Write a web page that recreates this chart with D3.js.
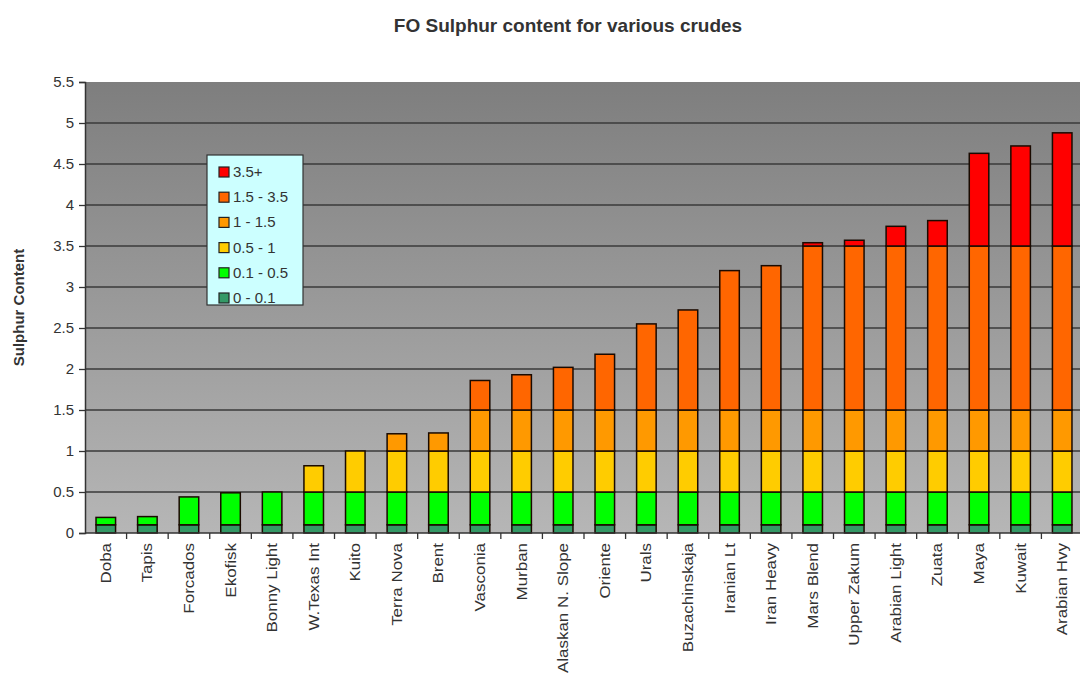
<!DOCTYPE html>
<html>
<head>
<meta charset="utf-8">
<script src="https://cdn.jsdelivr.net/npm/d3@7"></script>
<style>
  body { margin: 0; background: #fff; }
  text { font-family: "Liberation Sans", Arial, sans-serif; fill: #333; }
</style>
</head>
<body>
<svg id="chart" width="1080" height="677"></svg>
<script>
// Crudes, sorted by fuel-oil sulphur content
const crudes = ["Doba", "Tapis", "Forcados", "Ekofisk", "Bonny Light", "W.Texas Int", "Kuito",
  "Terra Nova", "Brent", "Vasconia", "Murban", "Alaskan N. Slope", "Oriente", "Urals",
  "Buzachinskaja", "Iranian Lt", "Iran Heavy", "Mars Blend", "Upper Zakum", "Arabian Light",
  "Zuata", "Maya", "Kuwait", "Arabian Hvy"];

// Portion of each crude's sulphur content falling in each band (stacked series)
const band0to01   = [0.1, 0.1, 0.1, 0.1, 0.1, 0.1, 0.1, 0.1, 0.1, 0.1, 0.1, 0.1,
                     0.1, 0.1, 0.1, 0.1, 0.1, 0.1, 0.1, 0.1, 0.1, 0.1, 0.1, 0.1];
const band01to05  = [0.09, 0.1, 0.34, 0.39, 0.4, 0.4, 0.4, 0.4, 0.4, 0.4, 0.4, 0.4,
                     0.4, 0.4, 0.4, 0.4, 0.4, 0.4, 0.4, 0.4, 0.4, 0.4, 0.4, 0.4];
const band05to1   = [0, 0, 0, 0, 0, 0.32, 0.5, 0.5, 0.5, 0.5, 0.5, 0.5,
                     0.5, 0.5, 0.5, 0.5, 0.5, 0.5, 0.5, 0.5, 0.5, 0.5, 0.5, 0.5];
const band1to15   = [0, 0, 0, 0, 0, 0, 0, 0.21, 0.22, 0.5, 0.5, 0.5,
                     0.5, 0.5, 0.5, 0.5, 0.5, 0.5, 0.5, 0.5, 0.5, 0.5, 0.5, 0.5];
const band15to35  = [0, 0, 0, 0, 0, 0, 0, 0, 0, 0.36, 0.43, 0.52,
                     0.68, 1.05, 1.22, 1.7, 1.76, 2.0, 2.0, 2.0, 2.0, 2.0, 2.0, 2.0];
const band35plus  = [0, 0, 0, 0, 0, 0, 0, 0, 0, 0, 0, 0,
                     0, 0, 0, 0, 0, 0.04, 0.07, 0.24, 0.31, 1.13, 1.22, 1.38];

const bandNames  = ["0 - 0.1", "0.1 - 0.5", "0.5 - 1", "1 - 1.5", "1.5 - 3.5", "3.5+"];
const bandColors = ["#339966", "#00ff00", "#ffcc00", "#ff9900", "#ff6600", "#ff0000"];
const yTicks = [0, 0.5, 1, 1.5, 2, 2.5, 3, 3.5, 4, 4.5, 5, 5.5];
const yTickLabels = ["0", "0.5", "1", "1.5", "2", "2.5", "3", "3.5", "4", "4.5", "5", "5.5"];

const series = [band0to01, band01to05, band05to1, band1to15, band15to35, band35plus];
const rows = crudes.map((c, i) => {
  const r = { crude: c };
  bandNames.forEach((b, k) => { r[b] = series[k][i]; });
  return r;
});

const svg = d3.select("#chart");
const plot = { left: 85, right: 1083, top: 82, bottom: 533 };

const x = d3.scaleBand().domain(crudes).range([plot.left, plot.right])
  .paddingInner(0.53).paddingOuter(0.265);
const y = d3.scaleLinear().domain([0, 5.5]).range([plot.bottom, plot.top]);

// Plot area with a vertical grey gradient
const defs = svg.append("defs");
const grad = defs.append("linearGradient").attr("id", "plotBg")
  .attr("x1", 0).attr("y1", 0).attr("x2", 0).attr("y2", 1);
grad.append("stop").attr("offset", "0%").attr("stop-color", "#7e7e7e");
grad.append("stop").attr("offset", "100%").attr("stop-color", "#b6b6b6");
svg.append("rect")
  .attr("x", plot.left).attr("y", plot.top)
  .attr("width", plot.right - plot.left).attr("height", plot.bottom - plot.top)
  .attr("fill", "url(#plotBg)");

// Horizontal gridlines
svg.append("g").selectAll("line")
  .data(yTicks.filter(t => t > 0 && t < 5.5))
  .join("line")
  .attr("x1", plot.left).attr("x2", plot.right)
  .attr("y1", d => y(d)).attr("y2", d => y(d))
  .attr("stroke", "#3a3a3a").attr("stroke-width", 1.6);

// Stacked bars
const stack = d3.stack().keys(bandNames)(rows);
svg.append("g").selectAll("g")
  .data(stack)
  .join("g")
  .attr("fill", (d, i) => bandColors[i])
  .selectAll("rect")
  .data(d => d.filter(p => p[1] - p[0] > 0))
  .join("rect")
  .attr("x", d => x(d.data.crude))
  .attr("width", x.bandwidth())
  .attr("y", d => y(d[1]))
  .attr("height", d => y(d[0]) - y(d[1]))
  .attr("stroke", "#1a0a00").attr("stroke-width", 1.5);

// Y axis
const yAxis = d3.axisLeft(y).tickValues(yTicks)
  .tickFormat((d, i) => yTickLabels[i]).tickSize(6).tickPadding(5);
const gy = svg.append("g").attr("transform", `translate(${plot.left},0)`).call(yAxis);
gy.select(".domain").attr("stroke", "#333").attr("stroke-width", 1.5);
gy.selectAll(".tick line").attr("stroke", "#333").attr("stroke-width", 1.3);
gy.selectAll(".tick text").attr("font-size", 15).attr("fill", "#555")
  .style("font-family", '"Liberation Sans", Arial, sans-serif');

// X axis: tick marks at category boundaries, labels rotated
const gx = svg.append("g");
gx.append("line").attr("x1", plot.left).attr("x2", plot.right)
  .attr("y1", plot.bottom).attr("y2", plot.bottom)
  .attr("stroke", "#333").attr("stroke-width", 1.5);
gx.selectAll("line.bound")
  .data(crudes)
  .join("line").attr("class", "bound")
  .attr("x1", d => x(d) - x.step() * x.paddingInner() / 2 + x.step())
  .attr("x2", d => x(d) - x.step() * x.paddingInner() / 2 + x.step())
  .attr("y1", plot.bottom).attr("y2", plot.bottom + 6)
  .attr("stroke", "#333").attr("stroke-width", 1.3);
gx.selectAll("text")
  .data(crudes)
  .join("text")
  .attr("transform", d => `translate(${x(d) + x.bandwidth() / 2 + 5},${plot.bottom + 10}) rotate(-90) scale(1.06,0.9)`)
  .attr("text-anchor", "end")
  .attr("font-size", 16)
  .attr("fill", "#555")
  .text(d => d);

// Axis title
svg.append("text")
  .attr("transform", `translate(24,${(plot.top + plot.bottom) / 2}) rotate(-90)`)
  .attr("text-anchor", "middle")
  .attr("font-size", 15).attr("font-weight", "bold")
  .text("Sulphur Content");

// Chart title
svg.append("text")
  .attr("x", 568).attr("y", 32)
  .attr("text-anchor", "middle")
  .attr("font-size", 19).attr("font-weight", "bold")
  .attr("fill", "#222")
  .text("FO Sulphur content for various crudes");

// Legend (highest band first)
const legend = svg.append("g").attr("transform", "translate(207,155)");
legend.append("rect").attr("width", 96).attr("height", 150)
  .attr("fill", "#ccffff").attr("stroke", "#333").attr("stroke-width", 1.2);
const items = legend.selectAll("g.item")
  .data(bandNames.map((n, i) => ({ name: n, color: bandColors[i] })).reverse())
  .join("g").attr("class", "item")
  .attr("transform", (d, i) => `translate(0,${12 + i * 25.2})`);
items.append("rect").attr("x", 12).attr("width", 10).attr("height", 10)
  .attr("fill", d => d.color).attr("stroke", "#222").attr("stroke-width", 1.2);
items.append("text").attr("x", 26).attr("y", 10)
  .attr("font-size", 15).attr("fill", "#555")
  .text(d => d.name);
</script>
</body>
</html>
